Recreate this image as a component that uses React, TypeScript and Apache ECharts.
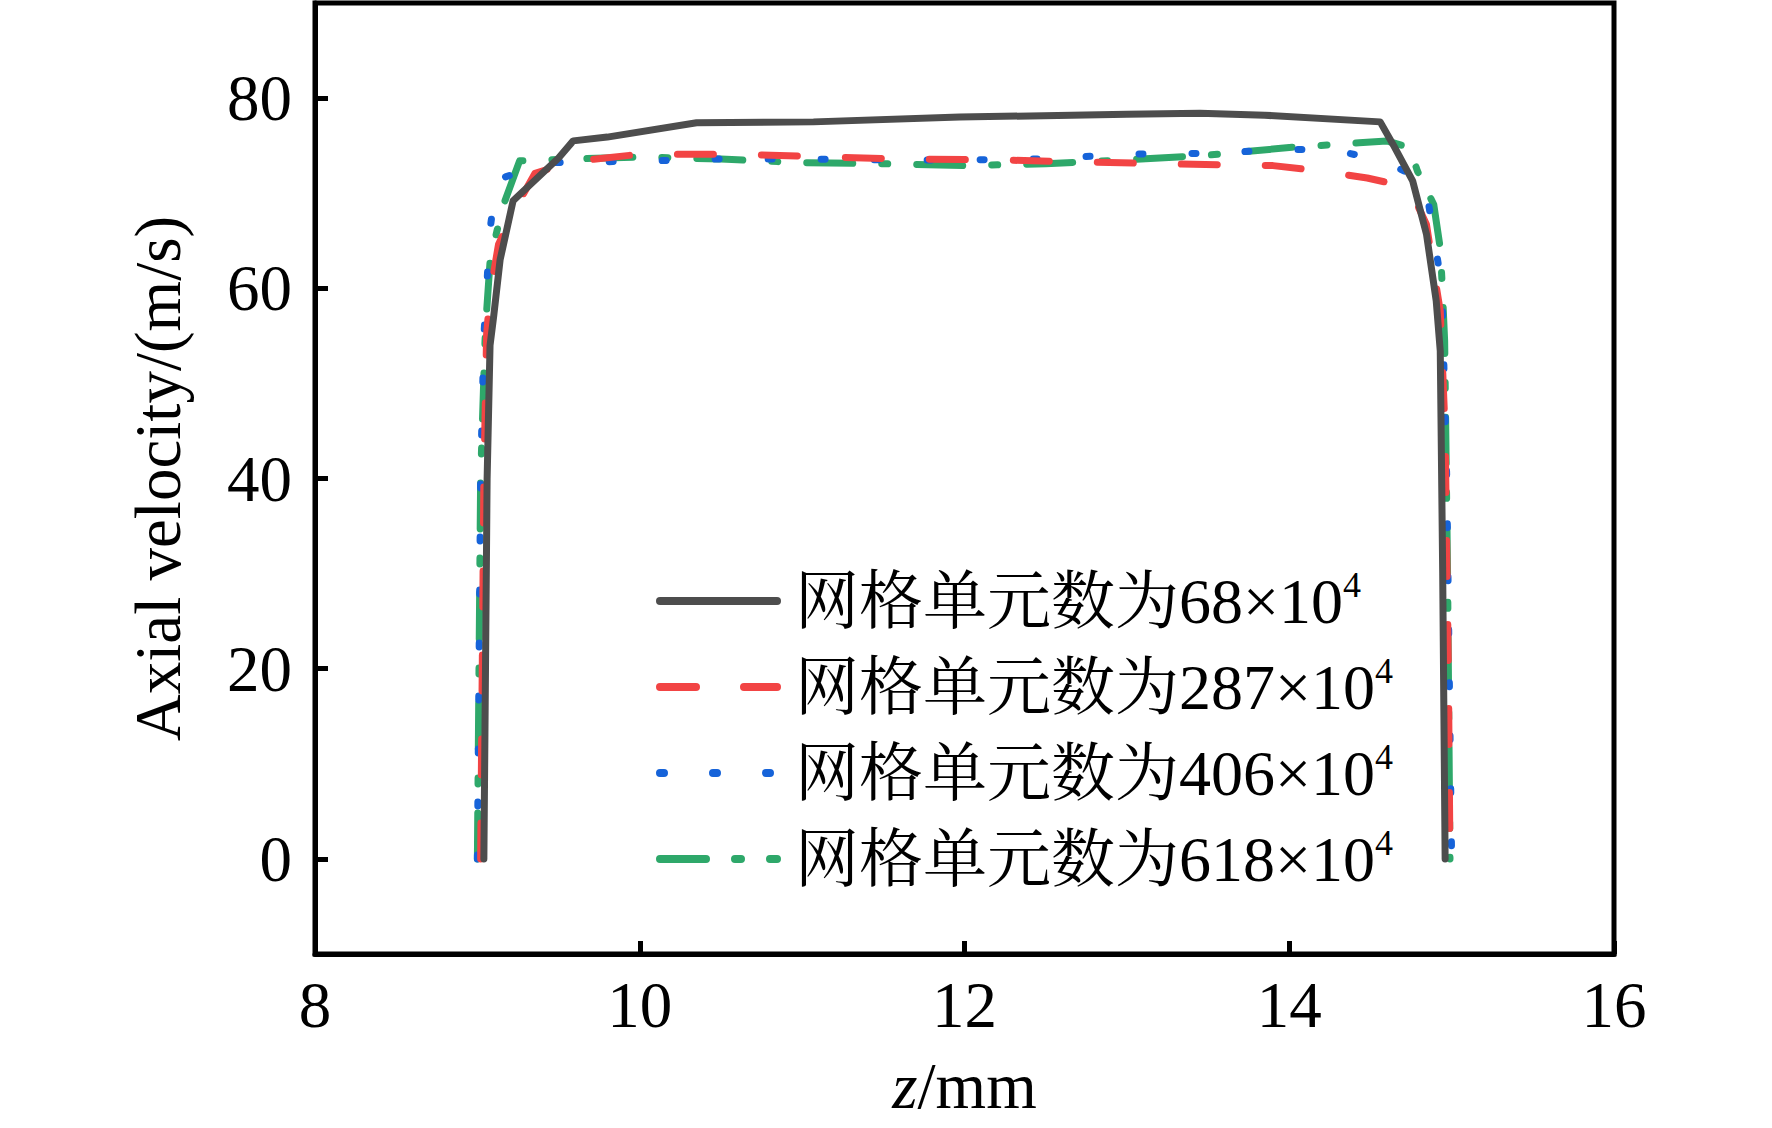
import React, { useEffect, useRef } from "react";
import * as echarts from "echarts";

// z (mm) / axial velocity (m/s)
const z68 = [9.04, 9.05, 9.06, 9.078, 9.1, 9.14, 9.22, 9.5, 9.59, 9.8, 10.35, 11.07, 11.97, 13.0, 13.45, 13.85, 14.56, 14.64, 14.76, 14.845, 14.905, 14.93, 14.945, 14.96];
const v68 = [0, 20, 40, 54, 57, 63, 69.2, 73.7, 75.5, 75.9, 77.4, 77.5, 78.0, 78.3, 78.4, 78.2, 77.5, 75.1, 71.3, 65.7, 58.7, 53.4, 30, 0];

const z287 = [9.02, 9.03, 9.04, 9.057, 9.078, 9.13, 9.22, 9.355, 9.58, 10.0, 10.6, 11.0, 11.6, 12.2, 12.7, 13.2, 13.9, 14.21, 14.48, 14.74, 14.845, 14.89, 14.93, 14.96, 14.98, 14.99];
const v287 = [0, 20, 40, 55.2, 59.4, 64.6, 68, 72.1, 73.3, 74.1, 74.1, 73.9, 73.6, 73.5, 73.3, 73.1, 72.9, 72.3, 71.6, 70.6, 66.7, 61.8, 57.6, 45, 20, 0];

const z406 = [9.0, 9.01, 9.02, 9.04, 9.078, 9.119, 9.43, 9.75, 10.07, 10.5, 11.0, 11.5, 12.0, 12.5, 12.97, 13.5, 14.0, 14.27, 14.59, 14.835, 14.94, 14.97, 14.985, 15.0];
const v406 = [0, 20, 40, 55, 66.2, 71.4, 73.2, 73.3, 73.4, 73.6, 73.6, 73.5, 73.5, 73.6, 74.1, 74.2, 74.6, 74.6, 73.3, 71.3, 60.2, 40, 20, 0];

const z618 = [9.0, 9.01, 9.02, 9.047, 9.057, 9.078, 9.12, 9.17, 9.26, 9.6, 10.0, 10.5, 11.0, 11.5, 12.0, 12.5, 13.0, 13.5, 14.0, 14.43, 14.6, 14.74, 14.79, 14.89, 14.93, 14.94, 14.957, 14.975, 14.99];
const v618 = [0, 20, 40, 54.5, 57.6, 62.8, 66, 69.2, 73.4, 73.6, 73.8, 73.6, 73.2, 73.1, 72.9, 73.1, 73.5, 74.0, 74.8, 75.3, 75.5, 74.8, 72.3, 68.8, 64.2, 61, 54.5, 30, 0];

const meshCounts = ["68", "287", "406", "618"];
const xTicks = [8, 10, 12, 14, 16];
const yTicks = [0, 20, 40, 60, 80];

const pairs = (zs: number[], vs: number[]) => zs.map((z, i) => [z, vs[i]]);

const FONT = "Liberation Serif, Times New Roman, Noto Serif CJK SC, Noto Sans CJK SC, serif";

export default function App() {
  const ref = useRef<HTMLDivElement>(null);
  useEffect(() => {
    if (!ref.current) return;
    const chart = echarts.init(ref.current, null, { renderer: "svg" });
    const names = meshCounts.map((n) => `网格单元数为${n}×10⁴`);
    const styles = [
      { color: "#4d4d4d", type: "solid" as any },
      { color: "#f24444", type: [36, 48] as any },
      { color: "#1663d9", type: [4, 49] as any },
      { color: "#2ea86a", type: [46, 29, 6, 29] as any },
    ];
    const data = [pairs(z68, v68), pairs(z287, v287), pairs(z406, v406), pairs(z618, v618)];
    chart.setOption({
      animation: false,
      backgroundColor: "#ffffff",
      grid: {
        left: 315,
        right: 158,
        top: 3,
        bottom: 174,
        show: true,
        borderColor: "#000",
        borderWidth: 5,
        backgroundColor: "transparent",
      },
      legend: {
        orient: "vertical",
        left: 651,
        top: 562,
        itemWidth: 117,
        itemHeight: 14,
        itemGap: 20,
        data: names,
        itemStyle: { opacity: 0 },
        lineStyle: { width: 8, cap: "round" },
        formatter: (name: string) => `{a|${name.replace("⁴", "")}}{s|4}`,
        textStyle: {
          fontFamily: FONT,
          fontSize: 64,
          color: "#000",
          padding: [0, 0, 0, 13],
          rich: {
            a: { fontFamily: FONT, fontSize: 64, color: "#000", lineHeight: 68 },
            s: { fontFamily: FONT, fontSize: 36, color: "#000", lineHeight: 68, verticalAlign: "top", padding: [0, 0, 30, 0] },
          },
        },
      },
      xAxis: {
        type: "value",
        min: 8,
        max: 16,
        interval: 2,
        name: "{i|z}{n|/mm}",
        nameLocation: "middle",
        nameGap: 99,
        nameTextStyle: {
          fontFamily: FONT,
          fontSize: 65,
          color: "#000",
          rich: {
            i: { fontFamily: "Liberation Serif", fontSize: 65, fontStyle: "italic", color: "#000" },
            n: { fontFamily: FONT, fontSize: 65, color: "#000" },
          },
        },
        axisLine: { show: true, onZero: false, lineStyle: { color: "#000", width: 5 } },
        axisTick: { show: true, inside: true, length: 13, lineStyle: { color: "#000", width: 5 }, customValues: xTicks },
        axisLabel: { margin: 18, fontFamily: FONT, fontSize: 65, color: "#000", customValues: xTicks },
        splitLine: { show: false },
      },
      yAxis: {
        type: "value",
        min: -10,
        max: 90,
        name: "Axial velocity/(m/s)",
        nameLocation: "middle",
        nameGap: 125,
        nameTextStyle: { fontFamily: FONT, fontSize: 65, color: "#000" },
        axisLine: { show: true, onZero: false, lineStyle: { color: "#000", width: 5 } },
        axisTick: { show: true, inside: true, length: 13, lineStyle: { color: "#000", width: 5 }, customValues: yTicks },
        axisLabel: { margin: 23, fontFamily: FONT, fontSize: 65, color: "#000", customValues: yTicks },
        splitLine: { show: false },
      },
      series: data.map((d, i) => ({
        type: "line",
        name: names[i],
        data: d,
        symbol: "none",
        showSymbol: false,
        smooth: false,
        z: 10 - i,
        color: styles[i].color,
        lineStyle: { color: styles[i].color, width: 7, type: styles[i].type, cap: "round", join: "round" },
        itemStyle: { color: styles[i].color },
      })),
    });
    return () => chart.dispose();
  }, []);
  return <div ref={ref} style={{ position: "fixed", left: 0, top: 0, width: 1772, height: 1128 }} />;
}
